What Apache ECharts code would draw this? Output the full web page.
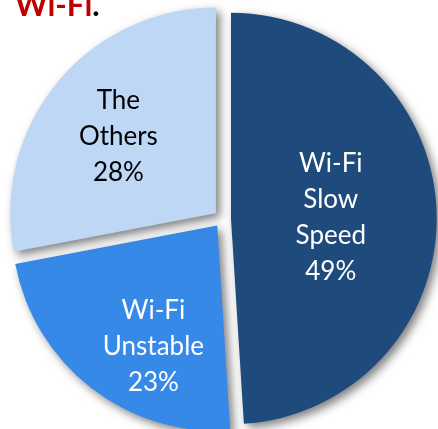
<!DOCTYPE html>
<html>
<head>
<meta charset="utf-8">
<script src="https://cdn.jsdelivr.net/npm/echarts@6/dist/echarts.min.js"></script>
<style>
html,body{margin:0;padding:0;background:#fff;}
#chart{width:438px;height:429px;}
</style>
</head>
<body>
<div id="chart"></div>
<script>
// ---- data ----
var categories = ['Wi-Fi\nSlow\nSpeed', 'Wi-Fi\nUnstable', 'The\nOthers'];
var values = [49, 23, 28];
var titleMain = 'Wi-Fi';
var titleTail = '.';

// ---- styles ----
var colors = ['#1F4A7C', '#3789E8', '#BDD7F5'];
var labelColors = ['#ffffff', '#ffffff', '#000000'];
var labelShift = [[-6, 3], [1, 38], [-16, -9]];

var chart = echarts.init(document.getElementById('chart'));
var data = categories.map(function (c, i) {
  return {
    name: c,
    value: values[i],
    selected: true,
    itemStyle: { color: colors[i] },
    label: { color: labelColors[i] }
  };
});

chart.setOption({
  animation: false,
  title: {
    text: '{r|' + titleMain + '}{k|' + titleTail + '}',
    left: 10,
    top: -15,
    textStyle: {
      rich: {
        r: { color: '#C00000', fontFamily: 'Lato', fontWeight: 'bold', fontSize: 31 },
        k: { color: '#000000', fontFamily: 'Lato', fontWeight: 'bold', fontSize: 31 }
      }
    }
  },
  series: [{
    type: 'pie',
    center: [222.5, 218.7],
    radius: 205.7,
    startAngle: 90,
    clockwise: true,
    selectedMode: 'multiple',
    selectedOffset: 8.5,
    silent: true,
    itemStyle: {
      shadowBlur: 10,
      shadowOffsetX: 4,
      shadowOffsetY: 4,
      shadowColor: 'rgba(0,0,0,0.5)'
    },
    label: {
      position: 'inside',
      formatter: '{b}\n{d}%',
      fontFamily: 'Lato',
      fontSize: 26,
      lineHeight: 36,
      align: 'center'
    },
    labelLine: { show: false },
    labelLayout: function (p) {
      var s = labelShift[p.dataIndex];
      return { dx: s[0], dy: s[1] };
    },
    emphasis: { disabled: true },
    data: data
  }]
});
</script>
</body>
</html>
